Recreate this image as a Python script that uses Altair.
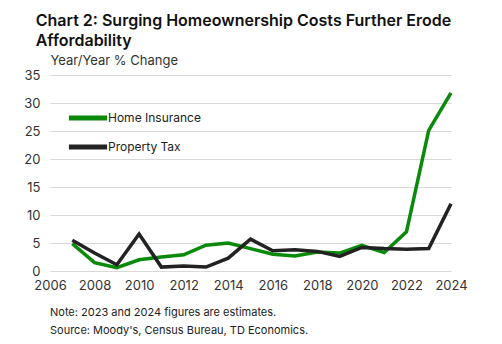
import altair as alt
import pandas as pd

years = list(range(2007, 2025))
home_insurance = [4.9, 1.5, 0.6, 2.0, 2.5, 2.9, 4.6, 5.0, 4.0, 3.0, 2.7, 3.4, 3.2, 4.6, 3.3, 7.0, 25.1, 31.8]
property_tax = [5.5, 3.2, 1.1, 6.6, 0.7, 0.9, 0.7, 2.3, 5.7, 3.6, 3.8, 3.5, 2.6, 4.2, 4.0, 3.9, 4.0, 12.0]
series_names = ["Home Insurance", "Property Tax"]
series_colors = ["#0a8a0a", "#222222"]
x_ticks = list(range(2006, 2025, 2))
y_ticks = [0, 5, 10, 15, 20, 25, 30, 35]
note_lines = ["Note: 2023 and 2024 figures are estimates.",
              "Source: Moody's, Census Bureau, TD Economics."]

rows = []
for i, y in enumerate(years):
    rows.append({"year": y, "series": series_names[0], "value": home_insurance[i]})
    rows.append({"year": y, "series": series_names[1], "value": property_tax[i]})
df = pd.DataFrame(rows)

FONT = "Inter"

lines = alt.Chart(df).mark_line(strokeWidth=3.5, strokeJoin="miter").encode(
    x=alt.X("year:Q", scale=alt.Scale(domain=[2006, 2024], nice=False),
            axis=alt.Axis(values=x_ticks, format="d", grid=False, domain=False, ticks=False,
                          labelOverlap=False, labelFlush=False,
                          labelPadding=8, labelFontSize=13, labelColor="#333333", labelFont=FONT,
                          title=None)),
    y=alt.Y("value:Q", scale=alt.Scale(domain=[0, 35], nice=False),
            axis=alt.Axis(values=y_ticks, grid=True, gridColor="#d9d9d9", gridWidth=1,
                          domain=False, ticks=False, labelPadding=10, labelFontSize=13,
                          labelColor="#333333", labelFont=FONT,
                          title="Year/Year % Change", titleAngle=0, titleX=0, titleY=-8,
                          titleAlign="left", titleBaseline="bottom", titleFontSize=13,
                          titleFontWeight="normal", titleColor="#333333", titleFont=FONT)),
    color=alt.Color("series:N", scale=alt.Scale(domain=series_names, range=series_colors),
                    legend=alt.Legend(title=None, orient="none", legendX=21, legendY=26,
                                      symbolType="M-1.35,0L1.35,0", symbolSize=800, symbolStrokeWidth=5,
                                      labelFontSize=12, labelFont=FONT, labelColor="#222222",
                                      rowPadding=2, labelOffset=3)),
)

note1 = alt.Chart(pd.DataFrame({"t": [note_lines[0]]})).mark_text(
    align="left", baseline="alphabetic", fontSize=11, font=FONT, color="#222222"
).encode(x=alt.value(0), y=alt.value(241), text="t:N")
note2 = alt.Chart(pd.DataFrame({"t": [note_lines[1]]})).mark_text(
    align="left", baseline="alphabetic", fontSize=11, font=FONT, color="#222222"
).encode(x=alt.value(0), y=alt.value(259), text="t:N")

chart = alt.layer(lines, note1, note2).properties(
    width=401, height=196,
    padding={"left": 50, "top": 75, "right": 51, "bottom": 73},
    autosize=alt.AutoSizeParams(type="none"),
    title=alt.TitleParams(["Chart 2: Surging Homeownership Costs Further Erode", "Affordability"],
                          anchor="start", dx=12, offset=5, fontSize=16, font=FONT,
                          fontWeight=600, color="#111111", lineHeight=20),
).configure_view(stroke=None)

chart.save("out.html", embed_options={"renderer": "svg", "actions": False})
